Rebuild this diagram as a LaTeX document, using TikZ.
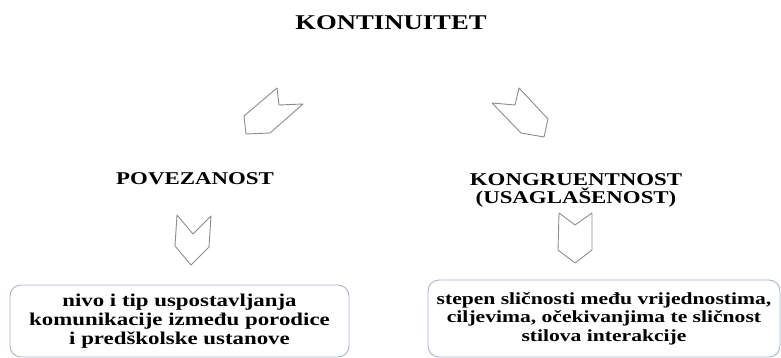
\documentclass[tikz,border=0pt]{standalone}
\usepackage{fontspec}
\setmainfont[FakeStretch=1.27]{Liberation Serif}
\usetikzlibrary{positioning}

\definecolor{boxline}{HTML}{A3B6D2}
\definecolor{chevline}{HTML}{8C8C8C}

\tikzset{
  chev/.style={draw=chevline, line width=0.9pt, line join=round},
  infobox/.style={draw=boxline, line width=0.9pt, rounded corners=11pt,
    align=center, font=\fontsize{17}{18.5}\selectfont\bfseries, inner sep=0pt},
  head/.style={font=\fontsize{18}{18}\selectfont\bfseries, align=center, inner sep=0pt}
}

\begin{document}
\begin{tikzpicture}[x=1pt,y=-1pt]
\useasboundingbox (0,0) rectangle (781,358);

\node[font=\fontsize{21}{21}\selectfont\bfseries, inner sep=0pt] (kont) at (391,23) {KONTINUITET};

\node[head] (pov) at (195,179) {POVEZANOST};
\node[head] (kong) at (576,190) {KONGRUENTNOST\\[0pt](USAGLAŠENOST)};

% arrows
\draw[chev] (277,88)--(279,105)--(303,104)--(270,133)--(246,134)--(244,116)--cycle;
\draw[chev] (519,88)--(515,105)--(492,103)--(521,133)--(544,137)--(548,119)--cycle;
\draw[chev] (177,215)--(193,234)--(211,216)--(209,247)--(191,265)--(175,246)--cycle;
\draw[chev] (559,213)--(575,225)--(592,213)--(592,250)--(575,263)--(558,250)--cycle;

\node[infobox, font=\fontsize{18}{19}\selectfont\bfseries, minimum width=339pt, minimum height=72pt] (nivo) at (179.5,321)
  {nivo i tip uspostavljanja\\komunikacije između porodice\\i predškolske ustanove};
\node[infobox, minimum width=352pt, minimum height=77pt] (stepen) at (604,318.5)
  {stepen sličnosti među vrijednostima,\\ciljevima, očekivanjima te sličnost\\stilova interakcije};

\end{tikzpicture}
\end{document}
